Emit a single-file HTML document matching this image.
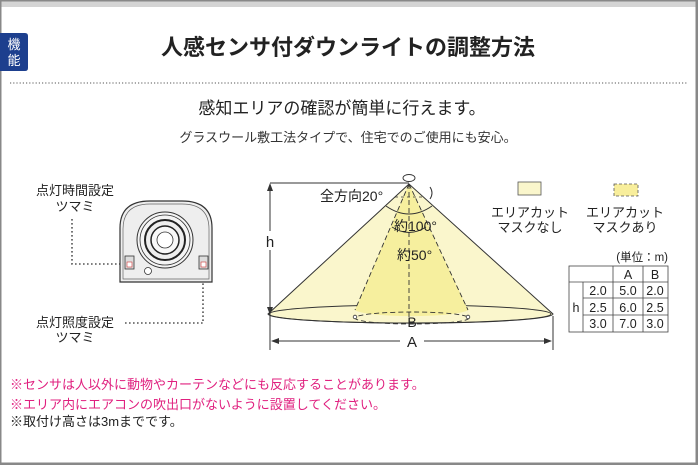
<!DOCTYPE html>
<html><head><meta charset="utf-8"><style>
html,body{margin:0;padding:0;background:#fff}
svg{display:block}
text{font-family:"Liberation Sans","Noto Sans CJK JP",sans-serif}
</style></head><body>
<svg width="698" height="465" viewBox="0 0 698 465" xmlns="http://www.w3.org/2000/svg">
<rect x="0" y="0" width="698" height="465" fill="#fff"/>
<rect x="0" y="0" width="698" height="7" fill="#d4d4d4"/>
<rect x="0" y="0" width="698" height="1.5" fill="#888"/>
<rect x="0" y="0" width="1.5" height="465" fill="#888"/>
<rect x="695.5" y="0" width="2.5" height="465" fill="#888"/>
<rect x="0" y="462.5" width="698" height="2.5" fill="#888"/>
<path d="M0 33 H25 Q28 33 28 36 V68 Q28 71 25 71 H0 Z" fill="#1d3f8e"/>
<text x="14" y="49" font-size="13" fill="#fff" text-anchor="middle">機</text>
<text x="14" y="65" font-size="13" fill="#fff" text-anchor="middle">能</text>
<text x="348" y="55" font-size="22" font-weight="bold" fill="#222" text-anchor="middle">人感センサ付ダウンライトの調整方法</text>
<line x1="10" y1="83" x2="688" y2="83" stroke="#777" stroke-width="1.2" stroke-dasharray="1.2,2"/>
<text x="342" y="114" font-size="17" fill="#222" text-anchor="middle">感知エリアの確認が簡単に行えます。</text>
<text x="348" y="142" font-size="13" fill="#333" text-anchor="middle">グラスウール敷工法タイプで、住宅でのご使用にも安心。</text>

<!-- cone -->
<path d="M409 184 L268 314 A141 9 0 0 0 553 314 Z" fill="#faf6cc" stroke="#333" stroke-width="1"/>
<ellipse cx="410" cy="314" rx="141" ry="9" fill="none" stroke="#333" stroke-width="1"/>
<path d="M409 184 L355 310 A57 7 0 0 0 468 310 Z" fill="#f6ef9e"/>
<line x1="409" y1="184" x2="355" y2="310" stroke="#333" stroke-dasharray="5,3" stroke-width="0.9"/>
<line x1="409" y1="184" x2="468" y2="310" stroke="#333" stroke-dasharray="5,3" stroke-width="0.9"/>
<line x1="409" y1="184" x2="409" y2="318" stroke="#333" stroke-dasharray="5,3" stroke-width="0.9"/>
<ellipse cx="412" cy="318" rx="57" ry="6" fill="none" stroke="#333" stroke-dasharray="5,3" stroke-width="0.9"/>
<circle cx="355" cy="317" r="1.8" fill="#fff" stroke="#333" stroke-width="0.8"/>
<circle cx="468" cy="317" r="1.8" fill="#fff" stroke="#333" stroke-width="0.8"/>
<line x1="395" y1="197" x2="423" y2="197" stroke="#333" stroke-dasharray="3,3" stroke-width="0.8"/>
<ellipse cx="409" cy="178" rx="6" ry="3.5" fill="#fff" stroke="#333" stroke-width="0.9"/>
<path d="M386 206 Q409 222 432 206" fill="none" stroke="#333" stroke-width="1"/>
<path d="M392 227 Q409 238 426 227" fill="none" stroke="#333" stroke-width="1"/>
<path d="M430 187 Q434 193 430 199" fill="none" stroke="#333" stroke-width="1"/>
<text x="320" y="201" font-size="14" fill="#222">全方向20°</text>
<text x="394" y="231" font-size="14" fill="#222">約100°</text>
<text x="397" y="260" font-size="14" fill="#222">約50°</text>
<text x="412" y="327" font-size="14" fill="#222" text-anchor="middle">B</text>
<!-- h dimension -->
<line x1="270" y1="183" x2="409" y2="183" stroke="#333" stroke-width="1"/>
<line x1="270" y1="185" x2="270" y2="231" stroke="#333" stroke-width="1"/>
<line x1="270" y1="250" x2="270" y2="350" stroke="#333" stroke-width="1"/>
<path d="M267 191 L270 183 L273 191 Z M267 307 L270 315 L273 307 Z" fill="#333"/>
<text x="270" y="247" font-size="15" fill="#222" text-anchor="middle">h</text>
<line x1="553" y1="316" x2="553" y2="350" stroke="#333" stroke-width="1"/>
<line x1="272" y1="341" x2="400" y2="341" stroke="#333" stroke-width="1"/>
<line x1="424" y1="341" x2="551" y2="341" stroke="#333" stroke-width="1"/>
<path d="M279 338 L271 341 L279 344 Z M544 338 L552 341 L544 344 Z" fill="#333"/>
<text x="412" y="347" font-size="15" fill="#222" text-anchor="middle">A</text>

<!-- sensor -->
<text x="75" y="195" font-size="13" fill="#222" text-anchor="middle">点灯時間設定</text>
<text x="75" y="211" font-size="13" fill="#222" text-anchor="middle">ツマミ</text>
<text x="75" y="327" font-size="13" fill="#222" text-anchor="middle">点灯照度設定</text>
<text x="75" y="342" font-size="13" fill="#222" text-anchor="middle">ツマミ</text>
<path d="M72 219 V264 H124" fill="none" stroke="#555" stroke-width="1.6" stroke-dasharray="1.6,2.4"/>
<path d="M125 323 H203 V283" fill="none" stroke="#555" stroke-width="1.6" stroke-dasharray="1.6,2.4"/>
<path d="M120 282 V228 Q120 201 150 201 H182 Q212 201 212 228 V282 Z" fill="#eee" stroke="#333" stroke-width="1.2"/>
<path d="M123 279 V229 Q123 204 150 204 H182 Q209 204 209 229 V279 Z" fill="none" stroke="#666" stroke-width="0.7"/>
<circle cx="165" cy="240" r="28" fill="#f4f4f4" stroke="#333" stroke-width="1"/>
<circle cx="165" cy="240" r="25" fill="none" stroke="#333" stroke-width="0.8"/>
<circle cx="165" cy="240" r="20" fill="#eee" stroke="#222" stroke-width="2"/>
<circle cx="165" cy="240" r="14" fill="#f8f8f8" stroke="#222" stroke-width="1.5"/>
<circle cx="165" cy="240" r="8" fill="#fff" stroke="#333" stroke-width="0.8"/>
<rect x="125" y="256" width="9" height="13" fill="#ddd" stroke="#333" stroke-width="0.8"/>
<rect x="127" y="262" width="5" height="5" fill="#fff" stroke="#c33" stroke-width="0.6"/>
<rect x="199" y="256" width="9" height="13" fill="#ddd" stroke="#333" stroke-width="0.8"/>
<rect x="201" y="262" width="5" height="5" fill="#fff" stroke="#c33" stroke-width="0.6"/>
<circle cx="148" cy="271" r="3.5" fill="#fff" stroke="#333" stroke-width="0.8"/>

<!-- legend -->
<rect x="518" y="182" width="23" height="13" fill="#faf6cc" stroke="#555" stroke-width="0.8"/>
<rect x="614" y="184" width="24" height="12" fill="#f8ee9c" stroke="#555" stroke-width="0.8" stroke-dasharray="3,2"/>
<text x="530" y="217" font-size="13" fill="#222" text-anchor="middle">エリアカット</text>
<text x="530" y="232" font-size="13" fill="#222" text-anchor="middle">マスクなし</text>
<text x="625" y="217" font-size="13" fill="#222" text-anchor="middle">エリアカット</text>
<text x="625" y="232" font-size="13" fill="#222" text-anchor="middle">マスクあり</text>
<!-- table -->
<text x="668" y="261" font-size="11.5" fill="#222" text-anchor="end">(単位：m)</text>
<g stroke="#444" stroke-width="0.8" fill="none">
<rect x="569" y="266" width="99" height="66"/>
<line x1="613" y1="266" x2="613" y2="332"/>
<line x1="643" y1="266" x2="643" y2="332"/>
<line x1="583" y1="282" x2="583" y2="332"/>
<line x1="569" y1="282" x2="668" y2="282"/>
<line x1="583" y1="298" x2="668" y2="298"/>
<line x1="583" y1="315" x2="668" y2="315"/>
</g>
<g font-size="12.5" fill="#222" text-anchor="middle">
<text x="628" y="279">A</text><text x="655" y="279">B</text>
<text x="576" y="312">h</text>
<text x="598" y="295">2.0</text><text x="628" y="295">5.0</text><text x="655" y="295">2.0</text>
<text x="598" y="312">2.5</text><text x="628" y="312">6.0</text><text x="655" y="312">2.5</text>
<text x="598" y="328">3.0</text><text x="628" y="328">7.0</text><text x="655" y="328">3.0</text>
</g>
<!-- notes -->
<text x="10" y="389" font-size="13" fill="#e0207f">※センサは人以外に動物やカーテンなどにも反応することがあります。</text>
<text x="10" y="409" font-size="13" fill="#e0207f">※エリア内にエアコンの吹出口がないように設置してください。</text>
<text x="10" y="426" font-size="13" fill="#222">※取付け高さは3mまでです。</text>
</svg>
</body></html>
